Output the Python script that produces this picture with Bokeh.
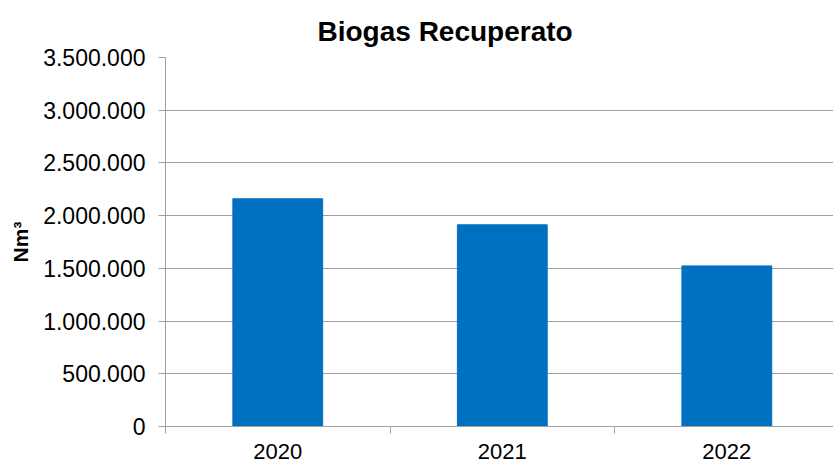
from bokeh.plotting import figure
from bokeh.models import Range1d, FixedTicker, ColumnDataSource
from bokeh.embed import file_html
from bokeh.resources import INLINE

# Data
years = ["2020", "2021", "2022"]
biogas = [2160000, 1913000, 1523000]
y_ticks = [0, 500000, 1000000, 1500000, 2000000, 2500000, 3000000, 3500000]
y_tick_labels = ["0", "500.000", "1.000.000", "1.500.000", "2.000.000",
                 "2.500.000", "3.000.000", "3.500.000"]

BAR = "#0070C0"
GRID = "#a0a0a0"
FONT = "Liberation Sans"

x_pos = [i + 0.5 for i in range(len(years))]
src = ColumnDataSource(dict(x=x_pos, top=biogas, year=years))

p = figure(width=833, height=463, output_backend="svg", toolbar_location=None,
           x_range=Range1d(0, 2.975), y_range=Range1d(0, 3500000),
           title="Biogas Recuperato",
           min_border_left=165, min_border_right=0, min_border_top=57,
           min_border_bottom=37)
p.outline_line_color = None
p.background_fill_color = "white"
p.border_fill_color = "white"

p.title.text_font = FONT
p.title.text_font_size = "28px"
p.title.text_font_style = "bold"
p.title.text_color = "black"
p.title.align = "left"
p.title.offset = 152
p.title.standoff = 21

p.vbar(x="x", top="top", width=0.4, source=src, fill_color=BAR, line_color=BAR)

# X axis
xa = p.xaxis[0]
xa.ticker = FixedTicker(ticks=x_pos, minor_ticks=list(range(len(years) + 1)))
xa.major_label_overrides = {x: y for x, y in zip(x_pos, years)}
xa.major_tick_line_color = None
xa.minor_tick_line_color = GRID
xa.minor_tick_out = 7
xa.minor_tick_in = 0
xa.axis_line_color = GRID
xa.major_label_text_font = FONT
xa.major_label_text_font_size = "22px"
xa.major_label_text_color = "black"
xa.major_label_standoff = 10

# Y axis
ya = p.yaxis[0]
ya.ticker = FixedTicker(ticks=y_ticks)
ya.major_label_overrides = {t: l for t, l in zip(y_ticks, y_tick_labels)}
ya.minor_tick_line_color = None
ya.major_tick_line_color = GRID
ya.major_tick_out = 7
ya.major_tick_in = 0
ya.axis_line_color = GRID
ya.major_label_text_font = FONT
ya.major_label_text_font_size = "23px"
ya.major_label_text_color = "black"
ya.major_label_standoff = 13
ya.axis_label = "Nm³"
ya.axis_label_text_font = FONT
ya.axis_label_text_font_size = "21px"
ya.axis_label_text_font_style = "bold"
ya.axis_label_text_color = "black"
ya.axis_label_standoff = 8

p.xgrid.grid_line_color = None
p.ygrid.grid_line_color = GRID
p.ygrid.grid_line_width = 1

open("out.html", "w").write(file_html(p, INLINE))
